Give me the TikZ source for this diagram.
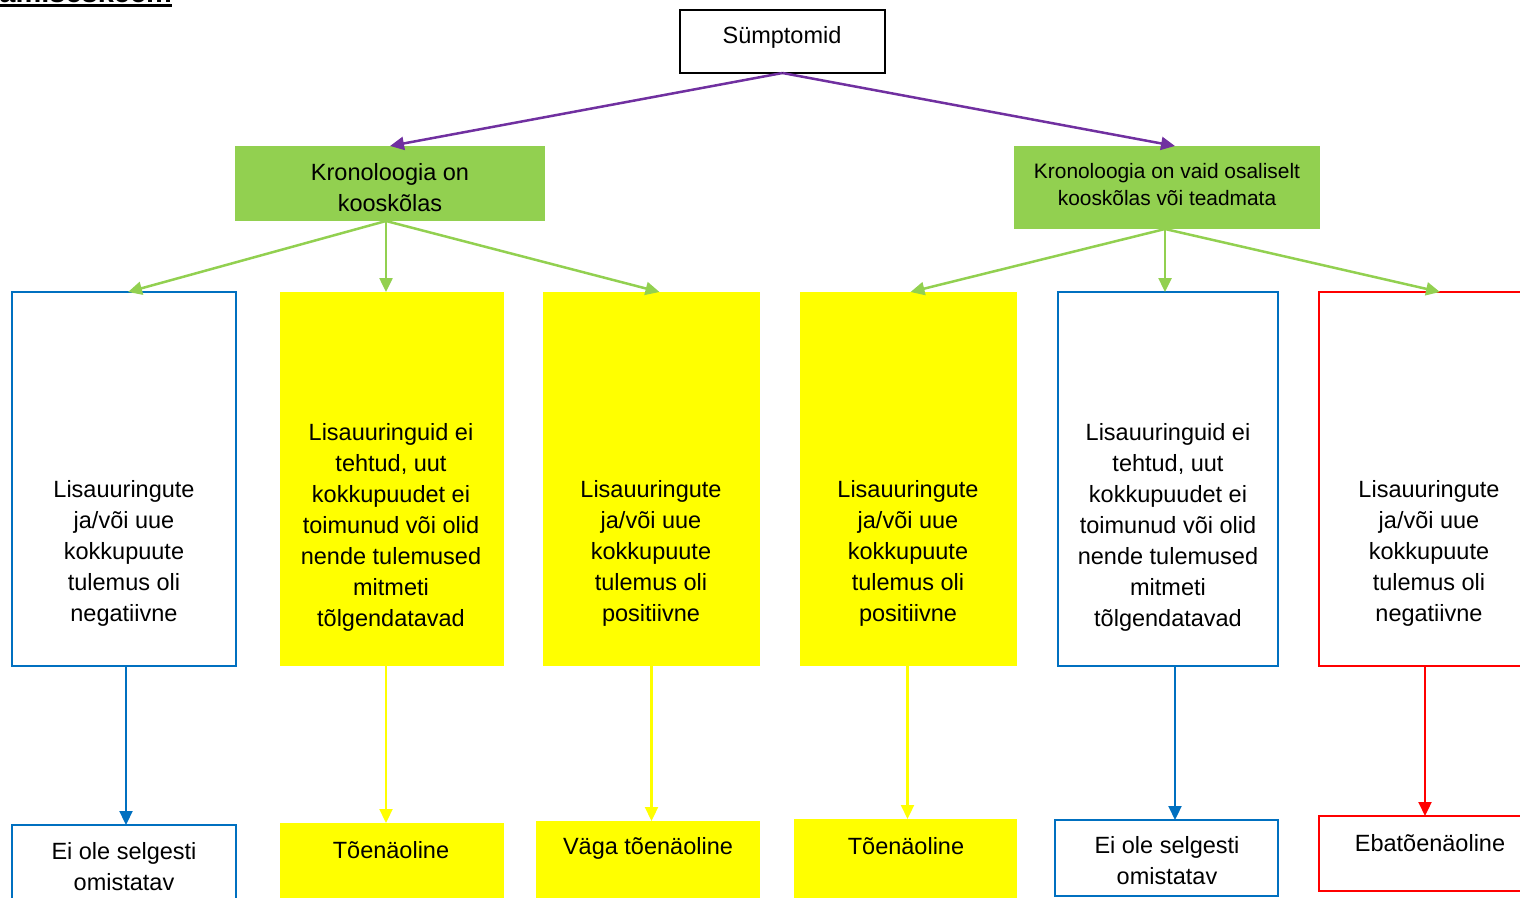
\documentclass[tikz,border=0pt]{standalone}
\usepackage{fontspec}
\setmainfont{Liberation Sans}
\usetikzlibrary{arrows.meta,calc}
\definecolor{cpurple}{HTML}{7030A0}
\definecolor{cgreen}{HTML}{92D050}
\definecolor{cyellow}{HTML}{FFFF00}
\definecolor{cblue}{HTML}{0070C0}
\definecolor{cred}{HTML}{FF0000}
\begin{document}
\begin{tikzpicture}[x=1pt,y=-1pt,
  every node/.style={inner sep=0pt, outer sep=0pt},
  frame/.style={anchor=north west, line width=2pt},
  bluebox/.style={frame, draw=cblue},
  redbox/.style={frame, draw=cred},
  yelbox/.style={frame, fill=cyellow},
  grnbox/.style={frame, fill=cgreen},
  blkbox/.style={frame, draw=black},
  txt/.style={align=center, font=\fontsize{23.5}{31}\selectfont},
  stxt/.style={align=center, font=\fontsize{20.9}{27}\selectfont},
  tip/.style={-{Triangle[length=14pt,width=13pt]}},
  parr/.style={tip, draw=cpurple, line width=2.5pt},
  garr/.style={tip, draw=cgreen, line width=2.5pt},
  barr/.style={tip, draw=cblue, line width=2.2pt},
  yarr/.style={tip, draw=cyellow, line width=2.2pt},
  rarr/.style={tip, draw=cred, line width=2.2pt}]
\useasboundingbox (0,0) rectangle (1520,897);
\clip (0,0) rectangle (1520,897);

% cut-off title
\node[anchor=base east, font=\fontsize{29}{30}\selectfont\bfseries] (title) at (172,2) {amiseskeem};
\draw[line width=3pt] (0,5.5) -- (172,5.5);

% top
\node[blkbox, minimum width=205, minimum height=63] (s) at (680,10) {};
\node[font=\fontsize{23.5}{28}\selectfont] (st) at (782,37) {Sümptomid};

\node[grnbox, minimum width=310, minimum height=75] (g1) at (235,146) {};
\node[txt] (g1t) at (390,188) {Kronoloogia on\\kooskõlas};
\node[grnbox, minimum width=306, minimum height=83] (g2) at (1014,146) {};
\node[stxt] (g2t) at (1167,185) {Kronoloogia on vaid osaliselt\\kooskõlas või teadmata};

% second row
\node[bluebox, minimum width=224, minimum height=374] (b1) at (12,292) {};
\node[yelbox, minimum width=224, minimum height=374] (b2) at (280,292) {};
\node[yelbox, minimum width=217, minimum height=374] (b3) at (543,292) {};
\node[yelbox, minimum width=217, minimum height=374] (b4) at (800,292) {};
\node[bluebox, minimum width=220, minimum height=374] (b5) at (1058,292) {};
\node[redbox, minimum width=220, minimum height=374] (b6) at (1319,292) {};

\node[txt] (t1) at (124,553) {Lisauuringute\\ja/või uue\\kokkupuute\\tulemus oli\\negatiivne};
\node[txt] (t2) at (391,527) {Lisauuringuid ei\\tehtud, uut\\kokkupuudet ei\\toimunud või olid\\nende tulemused\\mitmeti\\tõlgendatavad};
\node[txt] (t3) at (651,553) {Lisauuringute\\ja/või uue\\kokkupuute\\tulemus oli\\positiivne};
\node[txt] (t4) at (908,553) {Lisauuringute\\ja/või uue\\kokkupuute\\tulemus oli\\positiivne};
\node[txt] (t5) at (1168,527) {Lisauuringuid ei\\tehtud, uut\\kokkupuudet ei\\toimunud või olid\\nende tulemused\\mitmeti\\tõlgendatavad};
\node[txt] (t6) at (1429,553) {Lisauuringute\\ja/või uue\\kokkupuute\\tulemus oli\\negatiivne};

% bottom row
\node[bluebox, minimum width=224, minimum height=110] (r1) at (12,825) {};
\node[yelbox, minimum width=224, minimum height=110] (r2) at (280,823) {};
\node[yelbox, minimum width=224, minimum height=110] (r3) at (536,821) {};
\node[yelbox, minimum width=223, minimum height=110] (r4) at (794,819) {};
\node[bluebox, minimum width=223, minimum height=76] (r5) at (1055,820) {};
\node[redbox, minimum width=220, minimum height=75] (r6) at (1319,816) {};

\node[txt] (rt1) at (124,867) {Ei ole selgesti\\omistatav};
\node[txt] (rt2) at (391,850) {Tõenäoline};
\node[txt] (rt3) at (648,848) {Väga tõenäoline};
\node[txt] (rt4) at (906,846) {Tõenäoline};
\node[txt] (rt5) at (1167,861) {Ei ole selgesti\\omistatav};
\node[txt] (rt6) at (1430,843) {Ebatõenäoline};

% connectors
\draw[parr] (s.south) -- (g1.north);
\draw[parr] (s.south) -- ([xshift=8pt]g2.north);

\draw[garr] ([xshift=-4pt]g1.south) -- ([xshift=4pt]b1.north);
\draw[garr] ([xshift=-4pt]g1.south) -- ([xshift=-6pt]b2.north);
\draw[garr] ([xshift=-4pt]g1.south) -- ([xshift=8pt]b3.north);
\draw[garr] ([xshift=-2pt]g2.south) -- ([xshift=2pt]b4.north);
\draw[garr] ([xshift=-2pt]g2.south) -- ([xshift=-3pt]b5.north);
\draw[garr] ([xshift=-2pt]g2.south) -- ([xshift=11pt]b6.north);

\draw[barr] ([xshift=2pt]b1.south) -- ([xshift=2pt]r1.north);
\draw[yarr] ([xshift=-6pt]b2.south) -- ([xshift=-6pt]r2.north);
\draw[yarr] (b3.south) -- (b3.south |- r3.north);
\draw[yarr] ([xshift=-1pt]b4.south) -- ([xshift=-1pt]b4.south |- r4.north);
\draw[barr] ([xshift=7pt]b5.south) -- ([xshift=7pt]b5.south |- r5.north);
\draw[rarr] ([xshift=-4pt]b6.south) -- ([xshift=-4pt]b6.south |- r6.north);
\end{tikzpicture}
\end{document}
